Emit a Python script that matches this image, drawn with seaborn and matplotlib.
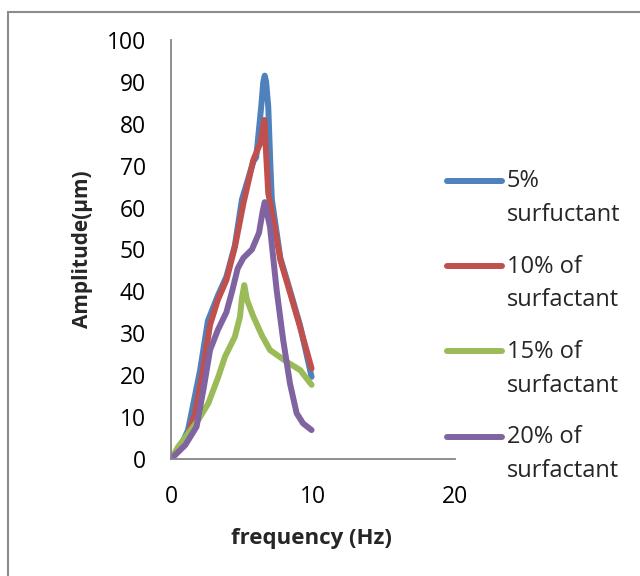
import matplotlib
matplotlib.use('Agg')
import matplotlib.pyplot as plt
from matplotlib.legend_handler import HandlerLine2D
from matplotlib.patches import Rectangle
import seaborn as sns

# series
x5 = [0, 0.6, 1.2, 2.05, 2.6, 3.3, 3.9, 4.5, 5.0, 5.8, 6.0, 6.35, 6.5, 6.6, 6.7, 6.85, 7.0, 7.1, 7.7, 8.4, 9.08, 9.9]
y5 = [0, 2.5, 6.9, 21.2, 33, 39, 43.5, 51, 62, 71, 72, 84, 90, 91.5, 90, 84, 70, 62, 48, 40, 32, 19.6]
x10 = [0, 1.0, 1.7, 2.25, 2.75, 3.3, 3.9, 4.5, 5.1, 5.8, 6.3, 6.57, 6.85, 7.3, 7.7, 8.4, 9.08, 9.9]
y10 = [0, 3.8, 11, 21.2, 32, 38, 42.7, 50.6, 61, 71.4, 75.5, 80.9, 63.4, 55.5, 47.5, 39.5, 31.6, 21.6]
x15 = [0, 0.5, 1.92, 2.63, 3.33, 3.8, 4.5, 4.86, 5.0, 5.16, 5.35, 5.8, 6.4, 6.97, 8.15, 9.1, 9.9]
y15 = [0, 2.9, 9.3, 13.3, 19.6, 24.4, 29.2, 34, 38.5, 41.5, 38, 34, 29.5, 26, 23.2, 21.2, 17.7]
x20 = [0, 1.0, 1.8, 2.28, 2.75, 3.3, 3.9, 4.3, 4.7, 5.1, 5.7, 6.2, 6.45, 6.6, 6.97, 7.44, 7.9, 8.38, 8.85, 9.3, 9.9]
y20 = [0, 3.3, 7.7, 16.5, 26, 30.8, 35, 40, 45.5, 48, 50, 54, 59, 61.3, 55.4, 40.3, 28.4, 18, 10.9, 8.5, 6.9]

labels = ['5%\nsurfuctant', '10% of\nsurfactant', '15% of\nsurfactant', '20% of\nsurfactant']
colors = ['#4F81BD', '#C0504D', '#9BBB59', '#8064A2']
series = [(x5, y5), (x10, y10), (x15, y15), (x20, y20)]

sns.set_style('white')
plt.rcParams['font.family'] = ['Open Sans', 'DejaVu Sans']

fig = plt.figure(figsize=(6.4, 5.76), dpi=100)
ax = fig.add_axes([171/640, 1-459/576, 284/640, 419/576])

for (xs, ys), lab, col in zip(series, labels, colors):
    sns.lineplot(x=xs, y=ys, ax=ax, sort=False, color=col, linewidth=4.3,
                 label=lab, solid_capstyle='round', solid_joinstyle='round')

ax.set_xlim(0, 20)
ax.set_ylim(0, 100)
ax.set_xticks([0, 10, 20])
ax.set_yticks(range(0, 101, 10))
ax.tick_params(axis='both', length=0, labelsize=16.5, colors='black')
ax.tick_params(axis='y', pad=18)
ax.tick_params(axis='x', pad=19)
for s in ['top', 'right']:
    ax.spines[s].set_visible(False)
for s in ['left', 'bottom']:
    ax.spines[s].set_color('#868686')
    ax.spines[s].set_linewidth(1.3)

ax.set_xlabel('frequency (Hz)', fontsize=16, fontweight='bold', va='center')
ax.set_ylabel('Amplitude(\u03bcm)', fontsize=15, fontweight='bold', va='center')
ax.xaxis.set_label_coords(0.496, -0.189)
ax.yaxis.set_label_coords(-0.31, 0.5)


class TopHandler(HandlerLine2D):
    def create_artists(self, *args, **kwargs):
        arts = super().create_artists(*args, **kwargs)
        for a in arts:
            a.set_ydata([v + 13 for v in a.get_ydata()])
        return arts


leg = ax.legend(loc='upper left', bbox_to_anchor=(426/640, 1-148/576),
                bbox_transform=fig.transFigure, frameon=False, fontsize=17,
                handlelength=2.33, handletextpad=0.2, labelspacing=1.16,
                handler_map={matplotlib.lines.Line2D: TopHandler()})
for t in leg.get_texts():
    t.set_linespacing(1.55)

fig.patches.append(Rectangle((8/640, -0.1), 1.1, 1.1 - 12/576, transform=fig.transFigure,
                             fill=False, edgecolor='#8c8c8c', linewidth=1.5))

fig.savefig('out.png', dpi=100)
